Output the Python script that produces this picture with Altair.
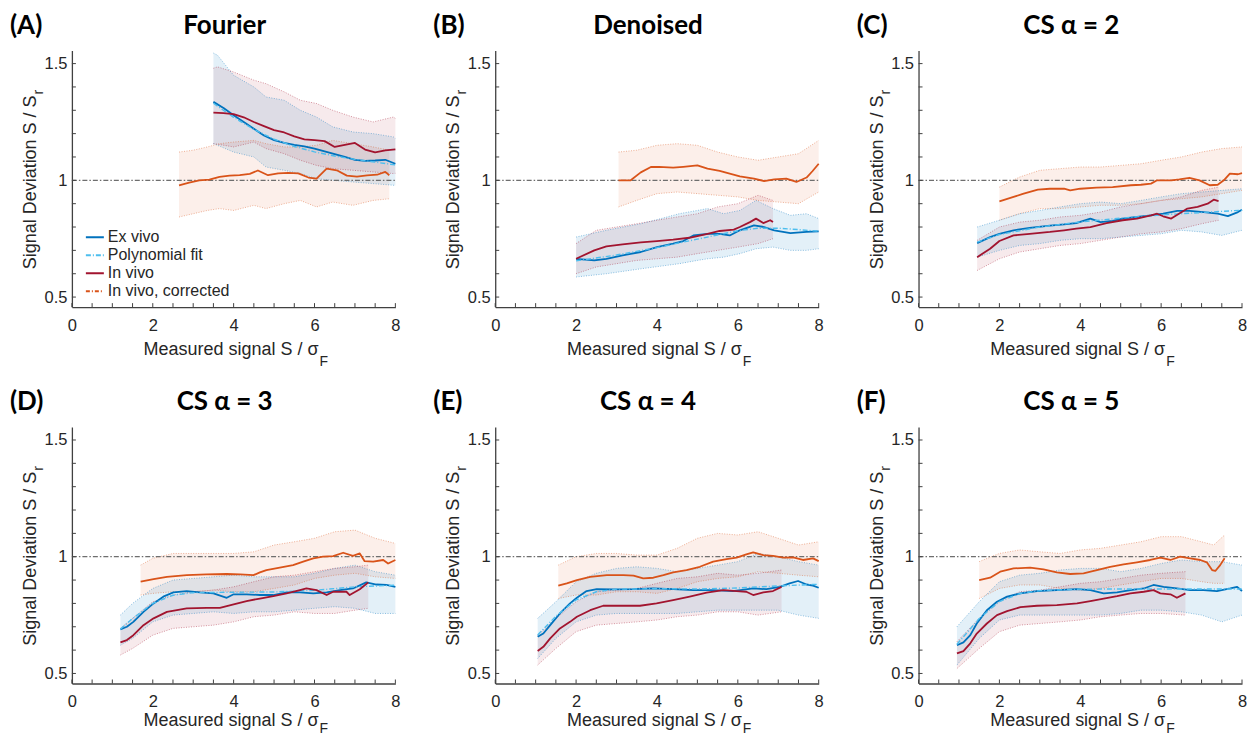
import altair as alt
import pandas as pd

# ---------------- categories / styling keys ----------------
SERIES = ["Ex vivo", "Polynomial fit", "In vivo", "In vivo, corrected"]
COLORS = ["#0072BD", "#4DBEEE", "#A2142F", "#D95319"]
DASHES = [[1, 0], [5, 2, 1, 2], [1, 0], [4, 2, 1, 2]]

PANEL_KEYS = ["A", "B", "C", "D", "E", "F"]
PANEL_LETTERS = ["(A)", "(B)", "(C)", "(D)", "(E)", "(F)"]
PANEL_TITLES = ["Fourier", "Denoised", "CS \u03b1 = 2", "CS \u03b1 = 3", "CS \u03b1 = 4", "CS \u03b1 = 5"]

X_LABELS = [0, 2, 4, 6, 8]
X_TICKS = [0, 0.5, 1, 1.5, 2, 2.5, 3, 3.5, 4, 4.5, 5, 5.5, 6, 6.5, 7, 7.5, 8]
Y_LABELS = [0.5, 1.0, 1.5]
Y_TICKS = [0.5, 0.6, 0.7, 0.8, 0.9, 1.0, 1.1, 1.2, 1.3, 1.4, 1.5]
REF_Y = [1.0]
REF_X = [0, 8]

# ---------------- (A) Fourier ----------------
A_ex_x = [3.5, 3.75, 4.0, 4.25, 4.5, 4.75, 5.0, 5.25, 5.5, 5.75, 6.0, 6.25, 6.5, 6.75, 7.0, 7.25, 7.5, 7.75, 8.0]
A_ex_y = [1.336, 1.31, 1.279, 1.25, 1.221, 1.192, 1.172, 1.160, 1.152, 1.145, 1.136, 1.124, 1.112, 1.10, 1.088, 1.083, 1.085, 1.088, 1.071]
A_iv_x = [3.5, 3.75, 4.0, 4.25, 4.5, 4.75, 5.0, 5.25, 5.5, 5.75, 6.0, 6.25, 6.5, 6.75, 7.0, 7.25, 7.5, 7.75, 8.0]
A_iv_y = [1.29, 1.288, 1.284, 1.27, 1.25, 1.232, 1.215, 1.205, 1.188, 1.175, 1.172, 1.168, 1.143, 1.152, 1.16, 1.132, 1.12, 1.128, 1.133]
A_co_x = [2.65, 2.9, 3.15, 3.4, 3.65, 3.9, 4.15, 4.4, 4.6, 4.85, 5.1, 5.35, 5.6, 5.85, 6.05, 6.3, 6.55, 6.8, 7.05, 7.3, 7.55, 7.75, 7.85]
A_co_y = [0.978, 0.99, 1.0, 1.003, 1.015, 1.02, 1.022, 1.028, 1.042, 1.022, 1.03, 1.032, 1.03, 1.012, 1.007, 1.05, 1.043, 1.02, 1.016, 1.021, 1.024, 1.036, 1.022]
A_poly_x = [3.5, 4.0, 4.5, 5.0, 5.5, 6.0, 6.5, 7.0, 7.5, 8.0]
A_poly_y = [1.33, 1.27, 1.218, 1.176, 1.145, 1.122, 1.104, 1.09, 1.078, 1.066]
A_ex_bx = [3.5, 3.6, 4.0, 4.5, 4.8, 5.25, 5.65, 6.05, 6.45, 6.95, 7.45, 7.95, 8.0]
A_ex_hi = [1.545, 1.536, 1.45, 1.4, 1.357, 1.343, 1.3, 1.271, 1.229, 1.207, 1.2, 1.186, 1.18]
A_ex_lo = [1.157, 1.15, 1.121, 1.1, 1.057, 1.043, 1.029, 1.007, 1.0, 0.993, 0.986, 0.979, 0.978]
A_iv_bx = [3.5, 3.6, 4.0, 4.5, 4.8, 5.25, 5.65, 6.05, 6.45, 6.95, 7.45, 7.95, 8.0]
A_iv_hi = [1.48, 1.486, 1.464, 1.429, 1.414, 1.379, 1.343, 1.329, 1.3, 1.271, 1.25, 1.271, 1.265]
A_iv_lo = [1.157, 1.155, 1.143, 1.164, 1.136, 1.114, 1.086, 1.064, 1.05, 1.043, 1.036, 1.029, 1.03]
A_co_bx = [2.65, 3.0, 3.35, 3.65, 4.0, 4.5, 4.8, 5.25, 5.65, 6.05, 6.45, 6.95, 7.45, 7.85]
A_co_hi = [1.121, 1.129, 1.143, 1.157, 1.164, 1.171, 1.157, 1.143, 1.143, 1.15, 1.171, 1.157, 1.143, 1.129]
A_co_lo = [0.843, 0.857, 0.871, 0.879, 0.871, 0.893, 0.879, 0.9, 0.914, 0.886, 0.907, 0.893, 0.914, 0.921]

# ---------------- (B) Denoised ----------------
B_ex_x = [2.0, 2.45, 2.75, 3.15, 3.6, 4.0, 4.4, 4.65, 4.9, 5.25, 5.55, 5.8, 6.05, 6.4, 6.65, 6.9, 7.3, 7.7, 8.0]
B_ex_y = [0.664, 0.657, 0.664, 0.679, 0.693, 0.714, 0.729, 0.74, 0.764, 0.771, 0.771, 0.764, 0.786, 0.807, 0.8, 0.786, 0.774, 0.779, 0.781]
B_iv_x = [2.0, 2.45, 2.75, 3.15, 3.6, 4.0, 4.4, 4.8, 5.25, 5.55, 5.9, 6.05, 6.3, 6.45, 6.63, 6.8, 6.87]
B_iv_y = [0.664, 0.7, 0.717, 0.726, 0.734, 0.74, 0.746, 0.754, 0.771, 0.783, 0.789, 0.8, 0.821, 0.836, 0.817, 0.829, 0.821]
B_co_x = [3.05, 3.35, 3.6, 3.85, 4.05, 4.4, 4.65, 5.0, 5.25, 5.55, 5.8, 6.05, 6.4, 6.65, 6.9, 7.2, 7.45, 7.7, 7.85, 8.0]
B_co_y = [1.0, 1.0, 1.034, 1.057, 1.058, 1.054, 1.058, 1.064, 1.05, 1.04, 1.029, 1.017, 1.007, 0.997, 1.004, 1.007, 0.993, 1.012, 1.04, 1.071]
B_poly_x = [2.0, 3.0, 4.0, 5.0, 6.0, 6.5, 7.0, 7.5, 8.0]
B_poly_y = [0.655, 0.68, 0.712, 0.748, 0.784, 0.795, 0.795, 0.789, 0.782]
B_ex_bx = [2.0, 2.75, 3.6, 4.25, 4.55, 5.0, 5.25, 5.65, 6.05, 6.45, 6.87, 7.3, 7.7, 8.0]
B_ex_hi = [0.757, 0.786, 0.814, 0.843, 0.857, 0.871, 0.879, 0.857, 0.871, 0.914, 0.879, 0.85, 0.857, 0.836]
B_ex_lo = [0.586, 0.6, 0.621, 0.636, 0.643, 0.657, 0.664, 0.671, 0.686, 0.707, 0.714, 0.7, 0.7, 0.707]
B_iv_bx = [2.0, 2.5, 3.0, 3.5, 4.0, 4.5, 5.0, 5.5, 6.0, 6.5, 6.87]
B_iv_hi = [0.729, 0.786, 0.8, 0.814, 0.829, 0.843, 0.857, 0.886, 0.9, 0.936, 0.914]
B_iv_lo = [0.6, 0.629, 0.643, 0.657, 0.664, 0.671, 0.686, 0.7, 0.714, 0.729, 0.75]
B_co_bx = [3.05, 3.5, 4.0, 4.5, 5.0, 5.5, 6.0, 6.5, 7.0, 7.5, 8.0]
B_co_hi = [1.121, 1.129, 1.15, 1.157, 1.15, 1.121, 1.1, 1.086, 1.1, 1.114, 1.171]
B_co_lo = [0.886, 0.914, 0.943, 0.95, 0.943, 0.936, 0.929, 0.914, 0.907, 0.9, 0.95]

# ---------------- (C) CS alpha = 2 ----------------
C_ex_x = [1.45, 1.77, 2.0, 2.35, 2.75, 3.25, 3.6, 3.9, 4.25, 4.5, 4.8, 5.05, 5.4, 5.75, 6.05, 6.4, 6.7, 7.05, 7.4, 7.65, 7.9, 8.0]
C_ex_y = [0.731, 0.757, 0.771, 0.786, 0.796, 0.806, 0.811, 0.817, 0.836, 0.821, 0.826, 0.836, 0.843, 0.85, 0.857, 0.869, 0.869, 0.864, 0.857, 0.847, 0.864, 0.874]
C_iv_x = [1.45, 1.77, 2.0, 2.35, 2.75, 3.25, 3.6, 3.9, 4.25, 4.65, 5.05, 5.4, 5.75, 5.9, 6.05, 6.25, 6.4, 6.65, 6.9, 7.15, 7.3, 7.42]
C_iv_y = [0.671, 0.707, 0.74, 0.764, 0.771, 0.779, 0.786, 0.793, 0.8, 0.817, 0.829, 0.836, 0.85, 0.857, 0.846, 0.836, 0.853, 0.879, 0.886, 0.9, 0.917, 0.911]
C_co_x = [2.0, 2.35, 2.6, 2.95, 3.25, 3.6, 3.75, 4.0, 4.4, 4.8, 5.25, 5.5, 5.75, 5.9, 6.25, 6.45, 6.7, 6.95, 7.2, 7.4, 7.55, 7.7, 7.9, 8.0]
C_co_y = [0.91, 0.929, 0.943, 0.96, 0.964, 0.964, 0.957, 0.964, 0.969, 0.971, 0.979, 0.981, 0.986, 1.0, 1.0, 1.004, 1.011, 1.0, 0.979, 0.981, 1.0, 1.029, 1.026, 1.031]
C_poly_x = [1.45, 2.0, 3.0, 4.0, 5.0, 6.0, 7.0, 8.0]
C_poly_y = [0.735, 0.768, 0.8, 0.822, 0.838, 0.852, 0.862, 0.872]
C_ex_bx = [1.45, 2.0, 2.5, 3.0, 3.5, 4.0, 4.5, 5.0, 5.5, 6.0, 6.5, 7.0, 7.5, 8.0]
C_ex_hi = [0.8, 0.829, 0.857, 0.871, 0.886, 0.9, 0.907, 0.9, 0.914, 0.929, 0.943, 0.95, 0.957, 0.964]
C_ex_lo = [0.671, 0.7, 0.721, 0.729, 0.743, 0.75, 0.75, 0.757, 0.764, 0.771, 0.786, 0.779, 0.764, 0.786]
C_iv_bx = [1.45, 2.0, 2.5, 3.0, 3.5, 4.0, 4.5, 5.0, 5.5, 6.0, 6.5, 7.0, 7.42]
C_iv_hi = [0.743, 0.8, 0.821, 0.829, 0.843, 0.85, 0.864, 0.886, 0.9, 0.914, 0.929, 0.957, 0.971]
C_iv_lo = [0.614, 0.664, 0.693, 0.707, 0.721, 0.729, 0.743, 0.757, 0.771, 0.779, 0.793, 0.814, 0.829]
C_co_bx = [2.0, 2.5, 3.0, 3.5, 4.0, 4.5, 5.0, 5.5, 6.0, 6.5, 7.0, 7.5, 8.0]
C_co_hi = [0.971, 1.014, 1.043, 1.05, 1.057, 1.057, 1.064, 1.071, 1.086, 1.1, 1.121, 1.136, 1.143]
C_co_lo = [0.829, 0.857, 0.879, 0.879, 0.886, 0.893, 0.893, 0.9, 0.914, 0.921, 0.929, 0.943, 0.957]

# ---------------- (D) CS alpha = 3 ----------------
D_ex_x = [1.2, 1.36, 1.52, 1.77, 2.02, 2.26, 2.51, 2.84, 3.17, 3.5, 3.83, 4.0, 4.32, 4.65, 4.98, 5.31, 5.64, 5.97, 6.3, 6.63, 6.95, 7.28, 7.53, 7.78, 8.0]
D_ex_y = [0.689, 0.7, 0.721, 0.764, 0.8, 0.829, 0.847, 0.853, 0.847, 0.843, 0.824, 0.839, 0.839, 0.836, 0.836, 0.847, 0.847, 0.843, 0.847, 0.857, 0.864, 0.89, 0.881, 0.879, 0.871]
D_iv_x = [1.2, 1.36, 1.52, 1.77, 2.02, 2.35, 2.84, 3.33, 3.66, 4.0, 4.32, 4.65, 4.98, 5.31, 5.64, 5.8, 6.05, 6.3, 6.46, 6.79, 6.87, 7.12, 7.33]
D_iv_y = [0.633, 0.643, 0.664, 0.707, 0.736, 0.764, 0.779, 0.781, 0.781, 0.796, 0.81, 0.821, 0.831, 0.843, 0.857, 0.864, 0.857, 0.836, 0.85, 0.85, 0.836, 0.861, 0.89]
D_co_x = [1.7, 2.02, 2.35, 2.84, 3.33, 3.83, 4.16, 4.49, 4.65, 4.81, 5.14, 5.47, 5.72, 5.97, 6.21, 6.46, 6.71, 6.95, 7.12, 7.24, 7.45, 7.7, 7.82, 8.0]
D_co_y = [0.893, 0.904, 0.914, 0.921, 0.924, 0.926, 0.924, 0.921, 0.933, 0.943, 0.953, 0.964, 0.979, 0.993, 1.0, 1.003, 1.017, 1.004, 1.014, 0.981, 0.979, 0.986, 0.971, 0.986]
D_poly_x = [1.2, 1.5, 2.0, 2.5, 3.0, 4.0, 5.0, 6.0, 7.0, 8.0]
D_poly_y = [0.69, 0.735, 0.8, 0.835, 0.846, 0.848, 0.849, 0.856, 0.871, 0.878]
D_ex_bx = [1.2, 1.5, 2.0, 2.5, 3.0, 3.5, 4.0, 4.5, 5.0, 5.5, 6.0, 6.5, 7.0, 7.5, 8.0]
D_ex_hi = [0.75, 0.8, 0.864, 0.9, 0.907, 0.914, 0.921, 0.914, 0.914, 0.914, 0.929, 0.95, 0.964, 0.936, 0.921]
D_ex_lo = [0.621, 0.65, 0.721, 0.75, 0.757, 0.764, 0.757, 0.764, 0.764, 0.771, 0.779, 0.786, 0.779, 0.757, 0.757]
D_iv_bx = [1.2, 1.5, 2.0, 2.5, 3.0, 3.5, 4.0, 4.5, 5.0, 5.5, 6.0, 6.5, 7.0, 7.33]
D_iv_hi = [0.693, 0.736, 0.807, 0.836, 0.85, 0.857, 0.871, 0.893, 0.914, 0.921, 0.936, 0.95, 0.957, 0.964]
D_iv_lo = [0.579, 0.607, 0.664, 0.693, 0.7, 0.707, 0.721, 0.743, 0.75, 0.764, 0.757, 0.757, 0.771, 0.779]
D_co_bx = [1.7, 2.0, 2.5, 3.0, 3.5, 4.0, 4.5, 5.0, 5.5, 6.0, 6.5, 7.0, 7.5, 8.0]
D_co_hi = [0.964, 0.993, 1.014, 1.014, 1.014, 1.014, 1.021, 1.05, 1.064, 1.079, 1.107, 1.114, 1.079, 1.057]
D_co_lo = [0.836, 0.843, 0.85, 0.85, 0.857, 0.85, 0.85, 0.864, 0.879, 0.907, 0.921, 0.929, 0.914, 0.907]

# ---------------- (E) CS alpha = 4 ----------------
E_ex_x = [1.05, 1.19, 1.36, 1.6, 1.85, 2.02, 2.26, 2.51, 2.92, 3.42, 3.91, 4.4, 4.9, 5.39, 5.88, 6.38, 6.71, 7.04, 7.28, 7.49, 7.7, 7.86, 8.0]
E_ex_y = [0.657, 0.671, 0.707, 0.757, 0.8, 0.824, 0.853, 0.861, 0.86, 0.861, 0.864, 0.861, 0.857, 0.857, 0.853, 0.864, 0.861, 0.871, 0.886, 0.896, 0.881, 0.876, 0.867]
E_iv_x = [1.05, 1.19, 1.36, 1.6, 1.85, 2.02, 2.35, 2.67, 3.09, 3.58, 3.99, 4.4, 4.81, 5.23, 5.64, 5.97, 6.21, 6.38, 6.63, 6.87, 7.08]
E_iv_y = [0.596, 0.614, 0.65, 0.693, 0.721, 0.743, 0.771, 0.79, 0.79, 0.79, 0.8, 0.814, 0.829, 0.846, 0.857, 0.853, 0.85, 0.836, 0.847, 0.853, 0.871]
E_co_x = [1.56, 1.77, 2.02, 2.35, 2.76, 3.17, 3.42, 3.66, 3.91, 4.16, 4.4, 4.73, 5.06, 5.39, 5.72, 5.97, 6.21, 6.38, 6.63, 6.87, 7.12, 7.37, 7.61, 7.86, 8.0]
E_co_y = [0.876, 0.886, 0.9, 0.914, 0.921, 0.921, 0.919, 0.907, 0.91, 0.921, 0.933, 0.943, 0.957, 0.979, 0.99, 0.996, 1.01, 1.019, 1.007, 1.004, 0.996, 0.997, 0.986, 0.993, 0.981]
E_poly_x = [1.05, 1.5, 2.0, 2.5, 3.0, 4.0, 5.0, 6.0, 7.0, 8.0]
E_poly_y = [0.665, 0.745, 0.815, 0.85, 0.861, 0.863, 0.862, 0.866, 0.875, 0.882]
E_ex_bx = [1.05, 1.5, 2.0, 2.5, 3.0, 3.5, 4.0, 4.5, 5.0, 5.5, 6.0, 6.5, 7.0, 7.5, 8.0]
E_ex_hi = [0.736, 0.807, 0.893, 0.929, 0.95, 0.957, 0.95, 0.936, 0.95, 0.964, 0.979, 1.014, 1.0, 0.979, 0.964]
E_ex_lo = [0.564, 0.65, 0.721, 0.75, 0.757, 0.757, 0.757, 0.757, 0.764, 0.771, 0.771, 0.771, 0.771, 0.75, 0.736]
E_iv_bx = [1.05, 1.5, 2.0, 2.5, 3.0, 3.5, 4.0, 4.5, 5.0, 5.5, 6.0, 6.5, 7.08]
E_iv_hi = [0.664, 0.736, 0.807, 0.85, 0.857, 0.864, 0.886, 0.907, 0.914, 0.929, 0.921, 0.929, 0.943]
E_iv_lo = [0.536, 0.607, 0.679, 0.707, 0.714, 0.721, 0.729, 0.743, 0.75, 0.764, 0.764, 0.75, 0.764]
E_co_bx = [1.56, 2.0, 2.5, 3.0, 3.5, 4.0, 4.5, 5.0, 5.5, 6.0, 6.5, 7.0, 7.5, 8.0]
E_co_hi = [0.964, 1.0, 1.014, 1.014, 1.007, 1.007, 1.036, 1.079, 1.1, 1.093, 1.107, 1.079, 1.05, 1.064]
E_co_lo = [0.821, 0.836, 0.836, 0.85, 0.85, 0.843, 0.864, 0.893, 0.907, 0.914, 0.936, 0.929, 0.921, 0.914]

# ---------------- (F) CS alpha = 5 ----------------
F_ex_x = [0.95, 1.11, 1.28, 1.44, 1.69, 1.94, 2.19, 2.52, 2.93, 3.42, 3.92, 4.25, 4.58, 4.91, 5.24, 5.57, 5.81, 6.06, 6.39, 6.72, 7.05, 7.38, 7.71, 7.88, 8.0]
F_ex_y = [0.621, 0.633, 0.664, 0.714, 0.771, 0.807, 0.829, 0.843, 0.853, 0.857, 0.861, 0.857, 0.843, 0.847, 0.857, 0.864, 0.879, 0.871, 0.864, 0.857, 0.857, 0.853, 0.864, 0.871, 0.853]
F_iv_x = [0.95, 1.11, 1.28, 1.44, 1.69, 1.94, 2.19, 2.52, 2.93, 3.42, 3.92, 4.25, 4.58, 4.91, 5.24, 5.57, 5.81, 5.98, 6.23, 6.39, 6.6]
F_iv_y = [0.586, 0.596, 0.629, 0.671, 0.714, 0.75, 0.767, 0.784, 0.79, 0.793, 0.8, 0.81, 0.821, 0.831, 0.843, 0.85, 0.857, 0.843, 0.839, 0.824, 0.843]
F_co_x = [1.5, 1.77, 2.02, 2.35, 2.76, 3.09, 3.42, 3.75, 4.08, 4.41, 4.74, 5.07, 5.4, 5.73, 5.98, 6.23, 6.47, 6.72, 6.97, 7.13, 7.26, 7.34, 7.46, 7.57]
F_co_y = [0.9, 0.91, 0.936, 0.95, 0.953, 0.946, 0.933, 0.926, 0.929, 0.943, 0.957, 0.967, 0.976, 0.986, 0.996, 0.986, 1.0, 0.993, 0.986, 0.976, 0.943, 0.939, 0.964, 0.993]
F_poly_x = [0.95, 1.5, 2.0, 2.5, 3.0, 4.0, 5.0, 6.0, 7.0, 8.0]
F_poly_y = [0.625, 0.735, 0.808, 0.842, 0.855, 0.861, 0.862, 0.862, 0.862, 0.862]
F_ex_bx = [0.95, 1.5, 2.0, 2.5, 3.0, 3.5, 4.0, 4.5, 5.0, 5.5, 6.0, 6.5, 7.0, 7.5, 8.0]
F_ex_hi = [0.7, 0.807, 0.893, 0.921, 0.929, 0.943, 0.95, 0.95, 0.936, 0.95, 0.971, 0.986, 0.979, 0.979, 0.964]
F_ex_lo = [0.536, 0.65, 0.729, 0.75, 0.75, 0.75, 0.75, 0.75, 0.757, 0.771, 0.771, 0.764, 0.75, 0.721, 0.75]
F_iv_bx = [0.95, 1.5, 2.0, 2.5, 3.0, 3.5, 4.0, 4.5, 5.0, 5.5, 6.0, 6.6]
F_iv_hi = [0.636, 0.736, 0.807, 0.85, 0.857, 0.871, 0.886, 0.893, 0.907, 0.921, 0.929, 0.936]
F_iv_lo = [0.521, 0.607, 0.679, 0.707, 0.714, 0.721, 0.729, 0.743, 0.75, 0.757, 0.757, 0.75]
F_co_bx = [1.5, 2.0, 2.5, 3.0, 3.5, 4.0, 4.5, 5.0, 5.5, 6.0, 6.5, 7.0, 7.3, 7.57]
F_co_hi = [0.979, 1.014, 1.029, 1.021, 1.014, 1.029, 1.036, 1.05, 1.064, 1.086, 1.086, 1.064, 1.05, 1.093]
F_co_lo = [0.821, 0.864, 0.879, 0.879, 0.864, 0.857, 0.864, 0.879, 0.893, 0.907, 0.907, 0.893, 0.886, 0.886]

# ---------------- layout / style ----------------
W, H = 324, 257
FONT = "Liberation Sans"
TFONT = "Lato, Open Sans, Noto Sans"
TXT = "#262626"
AXC = "#404040"
XS = alt.Scale(domain=[0, 8], nice=False, zero=False)
YS = alt.Scale(domain=[0.457, 1.556], nice=False, zero=False)
XAX = alt.Axis(values=X_LABELS, ticks=False, tickSize=0, grid=False, domainColor=AXC,
               domainWidth=1.3, labelFont=FONT, labelFontSize=16.5, labelColor=TXT,
               labelPadding=10, labelFlush=False, title=None, format="~g")
YAX = alt.Axis(values=Y_LABELS, ticks=False, tickSize=0, grid=False, domainColor=AXC,
               domainWidth=1.3, labelFont=FONT, labelFontSize=16.5, labelColor=TXT,
               labelPadding=5, labelFlush=False, title=None, format="~g")
CSCALE = alt.Scale(domain=SERIES, range=COLORS)
DSCALE = alt.Scale(domain=SERIES, range=DASHES)
BAND_KEYS = [("co", "#D95319", 0.09), ("ex", "#0072BD", 0.11), ("iv", "#A2142F", 0.09)]
NAME = {"ex": "Ex vivo", "iv": "In vivo", "co": "In vivo, corrected"}
# x-axis title baseline below plot / subscript drop, per row (second row kept inside the page)
XT_BASE = [48, 43]
XT_SUB = [11, 7]

G = globals()


def text_layer(txt, px, py, **kw):
    return alt.Chart(pd.DataFrame({"t": [txt]})).mark_text(**kw).encode(
        text="t:N", x=alt.value(px), y=alt.value(py))


def panel(i):
    k = PANEL_KEYS[i]
    row = i // 3
    leg = None
    if i == 0:
        leg = alt.Legend(orient="none", legendX=13, legendY=177, title=None,
                         symbolType="stroke", symbolSize=324, symbolStrokeWidth=2,
                         labelFont=FONT, labelFontSize=16, labelColor=TXT, labelOffset=3,
                         rowPadding=0, padding=0, labelLimit=300)
    layers = []
    # bands
    for s, c, op in BAND_KEYS:
        df = pd.DataFrame({"x": G[f"{k}_{s}_bx"], "lo": G[f"{k}_{s}_lo"], "hi": G[f"{k}_{s}_hi"]})
        layers.append(alt.Chart(df).mark_area(color=c, opacity=op).encode(
            x=alt.X("x:Q", scale=XS, axis=XAX), y=alt.Y("lo:Q", scale=YS, axis=YAX), y2="hi:Q"))
    for s, c, op in BAND_KEYS:
        df = pd.DataFrame({"x": G[f"{k}_{s}_bx"], "lo": G[f"{k}_{s}_lo"], "hi": G[f"{k}_{s}_hi"]})
        for edge in ["lo", "hi"]:
            layers.append(alt.Chart(df).mark_line(color=c, strokeWidth=0.8, strokeDash=[1, 1.5],
                                                  opacity=0.55).encode(
                x=alt.X("x:Q", scale=XS, axis=XAX), y=alt.Y(f"{edge}:Q", scale=YS, axis=YAX)))
    # reference line at 1
    ref = pd.DataFrame({"x": REF_X, "y": REF_Y * 2})
    layers.append(alt.Chart(ref).mark_line(color="#6e6e6e", strokeWidth=1.2,
                                           strokeDash=[5, 2, 1.5, 2]).encode(
        x=alt.X("x:Q", scale=XS, axis=XAX), y=alt.Y("y:Q", scale=YS, axis=YAX)))
    # mean lines (corrected + ex vivo)
    rows = []
    for s in ["co", "ex"]:
        for xv, yv in zip(G[f"{k}_{s}_x"], G[f"{k}_{s}_y"]):
            rows.append({"x": xv, "y": yv, "series": NAME[s]})
    layers.append(alt.Chart(pd.DataFrame(rows)).mark_line(strokeWidth=1.8, strokeJoin="round").encode(
        x=alt.X("x:Q", scale=XS, axis=XAX), y=alt.Y("y:Q", scale=YS, axis=YAX),
        color=alt.Color("series:N", scale=CSCALE, legend=leg)))
    # polynomial fit
    pdf = pd.DataFrame({"x": G[f"{k}_poly_x"], "y": G[f"{k}_poly_y"],
                        "series": ["Polynomial fit"] * len(G[f"{k}_poly_x"])})
    layers.append(alt.Chart(pdf).mark_line(strokeWidth=1.4).encode(
        x=alt.X("x:Q", scale=XS, axis=XAX), y=alt.Y("y:Q", scale=YS, axis=YAX),
        color=alt.Color("series:N", scale=CSCALE, legend=leg),
        strokeDash=alt.StrokeDash("series:N", scale=DSCALE, legend=leg)))
    # in vivo line
    idf = pd.DataFrame({"x": G[f"{k}_iv_x"], "y": G[f"{k}_iv_y"],
                        "series": ["In vivo"] * len(G[f"{k}_iv_x"])})
    layers.append(alt.Chart(idf).mark_line(strokeWidth=1.8, strokeJoin="round").encode(
        x=alt.X("x:Q", scale=XS, axis=XAX), y=alt.Y("y:Q", scale=YS, axis=YAX),
        color=alt.Color("series:N", scale=CSCALE, legend=leg)))
    # inward ticks
    layers.append(alt.Chart(pd.DataFrame({"v": X_TICKS})).mark_rule(color=AXC, strokeWidth=1).encode(
        x=alt.X("v:Q", scale=XS, axis=XAX), y=alt.value(H), y2=alt.value(H - 4)))
    layers.append(alt.Chart(pd.DataFrame({"v": Y_TICKS})).mark_rule(color=AXC, strokeWidth=1).encode(
        y=alt.Y("v:Q", scale=YS, axis=YAX), x=alt.value(0), x2=alt.value(4)))
    # titles and axis titles as text
    layers.append(text_layer(PANEL_LETTERS[i], -62, -17, align="left", baseline="alphabetic",
                             font=TFONT, fontSize=26, fontWeight="bold", color="black"))
    layers.append(text_layer(PANEL_TITLES[i], 153, -17, align="center", baseline="alphabetic",
                             font=TFONT, fontSize=26, fontWeight="bold", color="black"))
    layers.append(text_layer("Signal Deviation S / S", -36, 45, align="right", baseline="alphabetic",
                             angle=270, font=FONT, fontSize=18, color=TXT))
    layers.append(text_layer("r", -36, 44, align="left", baseline="alphabetic", angle=270, dy=7,
                             font=FONT, fontSize=14, color=TXT))
    layers.append(text_layer("Measured signal S / \u03c3", 247, H + XT_BASE[row], align="right",
                             baseline="alphabetic", font=FONT, fontSize=18, color=TXT))
    layers.append(text_layer("F", 248, H + XT_BASE[row], align="left", baseline="alphabetic",
                             dy=XT_SUB[row], font=FONT, fontSize=14, color=TXT))
    return alt.layer(*layers).properties(width=W, height=H)


chart = alt.concat(*[panel(i) for i in range(6)], columns=3,
                   spacing={"row": 120, "column": 100}, bounds="flush").resolve_scale(
    color="independent", strokeDash="independent").properties(
    padding={"left": 2, "top": 4, "right": 0, "bottom": 0}).configure_view(stroke=None)

chart.save("out.html", embed_options={"renderer": "svg", "actions": False})
